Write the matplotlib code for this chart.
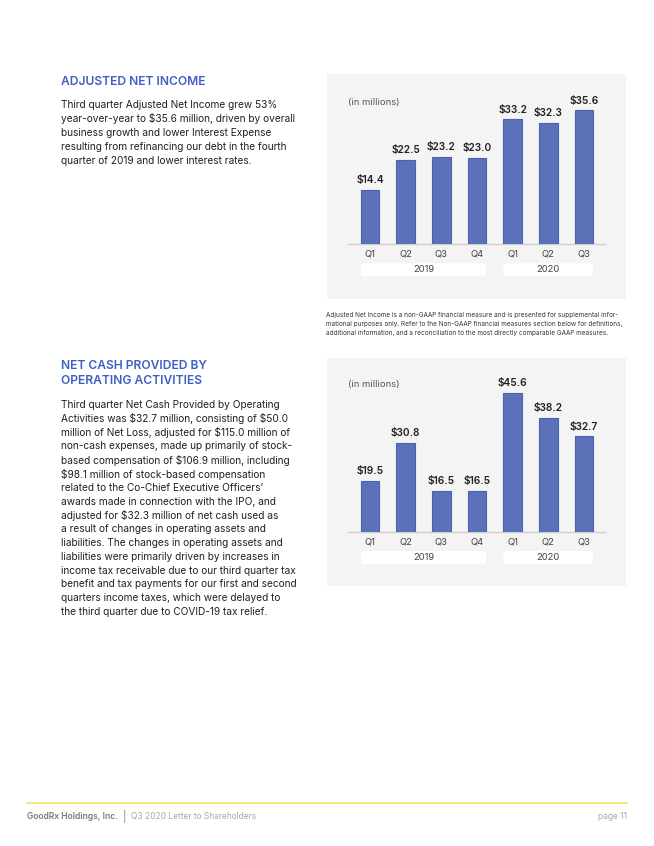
import matplotlib
matplotlib.use("Agg")
import matplotlib.pyplot as plt
from matplotlib.patches import FancyBboxPatch, Rectangle
from matplotlib.lines import Line2D

plt.rcParams['font.family'] = ['Inter', 'DejaVu Sans']
plt.rcParams['text.parse_math'] = False

# ---- data
quarters = ['Q1', 'Q2', 'Q3', 'Q4', 'Q1', 'Q2', 'Q3']
years = ['2019', '2020']
year_groups = [(0, 3), (4, 6)]
adj_net_income = [14.4, 22.5, 23.2, 23.0, 33.2, 32.3, 35.6]
net_cash_ops = [19.5, 30.8, 16.5, 16.5, 45.6, 38.2, 32.7]

heading1 = 'ADJUSTED NET INCOME'
body1 = [
    'Third quarter Adjusted Net Income grew 53%',
    'year-over-year to $35.6 million, driven by overall',
    'business growth and lower Interest Expense',
    'resulting from refinancing our debt in the fourth',
    'quarter of 2019 and lower interest rates.',
]
heading2 = ['NET CASH PROVIDED BY', 'OPERATING ACTIVITIES']
body2 = [
    'Third quarter Net Cash Provided by Operating',
    'Activities was $32.7 million, consisting of $50.0',
    'million of Net Loss, adjusted for $115.0 million of',
    'non-cash expenses, made up primarily of stock-',
    'based compensation of $106.9 million, including',
    '$98.1 million of stock-based compensation',
    'related to the Co-Chief Executive Officers\u2019',
    'awards made in connection with the IPO, and',
    'adjusted for $32.3 million of net cash used as',
    'a result of changes in operating assets and',
    'liabilities. The changes in operating assets and',
    'liabilities were primarily driven by increases in',
    'income tax receivable due to our third quarter tax',
    'benefit and tax payments for our first and second',
    'quarters income taxes, which were delayed to',
    'the third quarter due to COVID-19 tax relief.',
]
footnote = [
    'Adjusted Net Income is a non-GAAP financial measure and is presented for supplemental infor-',
    'mational purposes only. Refer to the Non-GAAP financial measures section below for definitions,',
    'additional information, and a reconciliation to the most directly comparable GAAP measures.',
]

W, H = 654, 846
fig = plt.figure(figsize=(W / 100, H / 100), dpi=100)
fig.patch.set_facecolor('white')

BLUE = '#3f5ec4'
BAR = '#5b72b9'
BAR_EDGE = '#4a62b6'
TXT = '#222222'


def fx(px):
    return px / W


def fy(py):
    return 1 - py / H


# ---- left column text
fig.text(fx(61), fy(82), heading1, color=BLUE, fontsize=8.7, fontweight='semibold', va='center')
for i, line in enumerate(body1):
    fig.text(fx(61), fy(105 + i * 13.9), line, color=TXT, fontsize=7.3, va='center')

for i, line in enumerate(heading2):
    fig.text(fx(61), fy(366 + i * 15), line, color=BLUE, fontsize=8.7, fontweight='semibold', va='center')
for i, line in enumerate(body2):
    fig.text(fx(61), fy(405 + i * 13.8), line, color=TXT, fontsize=7.3, va='center')

# footnote
for i, line in enumerate(footnote):
    fig.text(fx(326), fy(315.5 + i * 8.5), line, color='#333333', fontsize=4.62, va='center')


# ---- charts
def chart(values, panel_top, panel_bottom, base_px, ylo, yhi, ax_top_px):
    fig.patches.append(Rectangle((fx(327), fy(panel_bottom)), fx(626 - 327), (panel_bottom - panel_top) / H,
                                 transform=fig.transFigure, facecolor='#f4f4f4', edgecolor='none', zorder=-2))
    ax = fig.add_axes([fx(348), fy(base_px), fx(605 - 348), (base_px - ax_top_px) / H])
    ax.set_facecolor('none')
    x = list(range(len(values)))
    ax.bar(x, values, width=0.53, color=BAR, edgecolor=BAR_EDGE, linewidth=0.8, zorder=3)
    for xi, v in zip(x, values):
        ax.annotate(f'${v:.1f}', (xi, v), xytext=(0, 3.5), textcoords='offset points',
                    ha='center', va='bottom', fontsize=7.3, fontweight='semibold', color=TXT)
    ax.set_xlim(-0.617, 6.59)
    ax.set_ylim(ylo, yhi)
    ax.set_xticks(x)
    ax.set_xticklabels(quarters, fontsize=6.8, color='#444444')
    ax.tick_params(axis='x', length=0, pad=4)
    ax.set_yticks([])
    for s in ['top', 'right', 'left']:
        ax.spines[s].set_visible(False)
    ax.spines['bottom'].set_color('#cfcfcf')
    ax.spines['bottom'].set_linewidth(1.0)
    ax.text(0, 1.0, '(in millions)', transform=ax.transAxes, ha='left', va='center',
            fontsize=6.8, color='#555555')
    # year boxes
    fig.canvas.draw()
    box_top = base_px + 19
    box_h = 13
    for (a, b), yr in zip(year_groups, years):
        x0 = ax.transData.transform((a - 0.26, 0))[0]
        x1 = ax.transData.transform((b + 0.26, 0))[0]
        patch = FancyBboxPatch((fx(x0), fy(box_top + box_h)), fx(x1 - x0), box_h / H,
                               boxstyle='round,pad=0,rounding_size=0.006', mutation_aspect=W / H,
                               transform=fig.transFigure, facecolor='white', edgecolor='none', zorder=-1)
        fig.patches.append(patch)
        fig.text(fx((x0 + x1) / 2), fy(box_top + box_h / 2), yr, ha='center', va='center',
                 fontsize=6.8, color='#444444')
    return ax


chart(adj_net_income, 74, 299, 244.3, 0, (244.3 - 102.7) / 3.76, 102.7)
chart(net_cash_ops, 358, 586, 532, 4.15, 4.15 + (532 - 384) / 3.347, 384)

# ---- footer
fig.add_artist(Line2D([fx(27), fx(627)], [fy(802.5), fy(802.5)], transform=fig.transFigure,
                      color='#f7e46a', linewidth=1.3))
fig.text(fx(27), fy(816), 'GoodRx Holdings, Inc.', fontsize=6.1, fontweight='semibold',
         color='#7a7a7a', va='center')
fig.text(fx(123), fy(816), '|', fontsize=7.5, color='#7a7a7a', va='center')
fig.text(fx(131), fy(816), 'Q3 2020 Letter to Shareholders', fontsize=6.05, color='#aaaaaa', va='center')
fig.text(fx(627), fy(816), 'page 11', fontsize=6.1, color='#aaaaaa', va='center', ha='right')

fig.savefig('out.png', dpi=100)
